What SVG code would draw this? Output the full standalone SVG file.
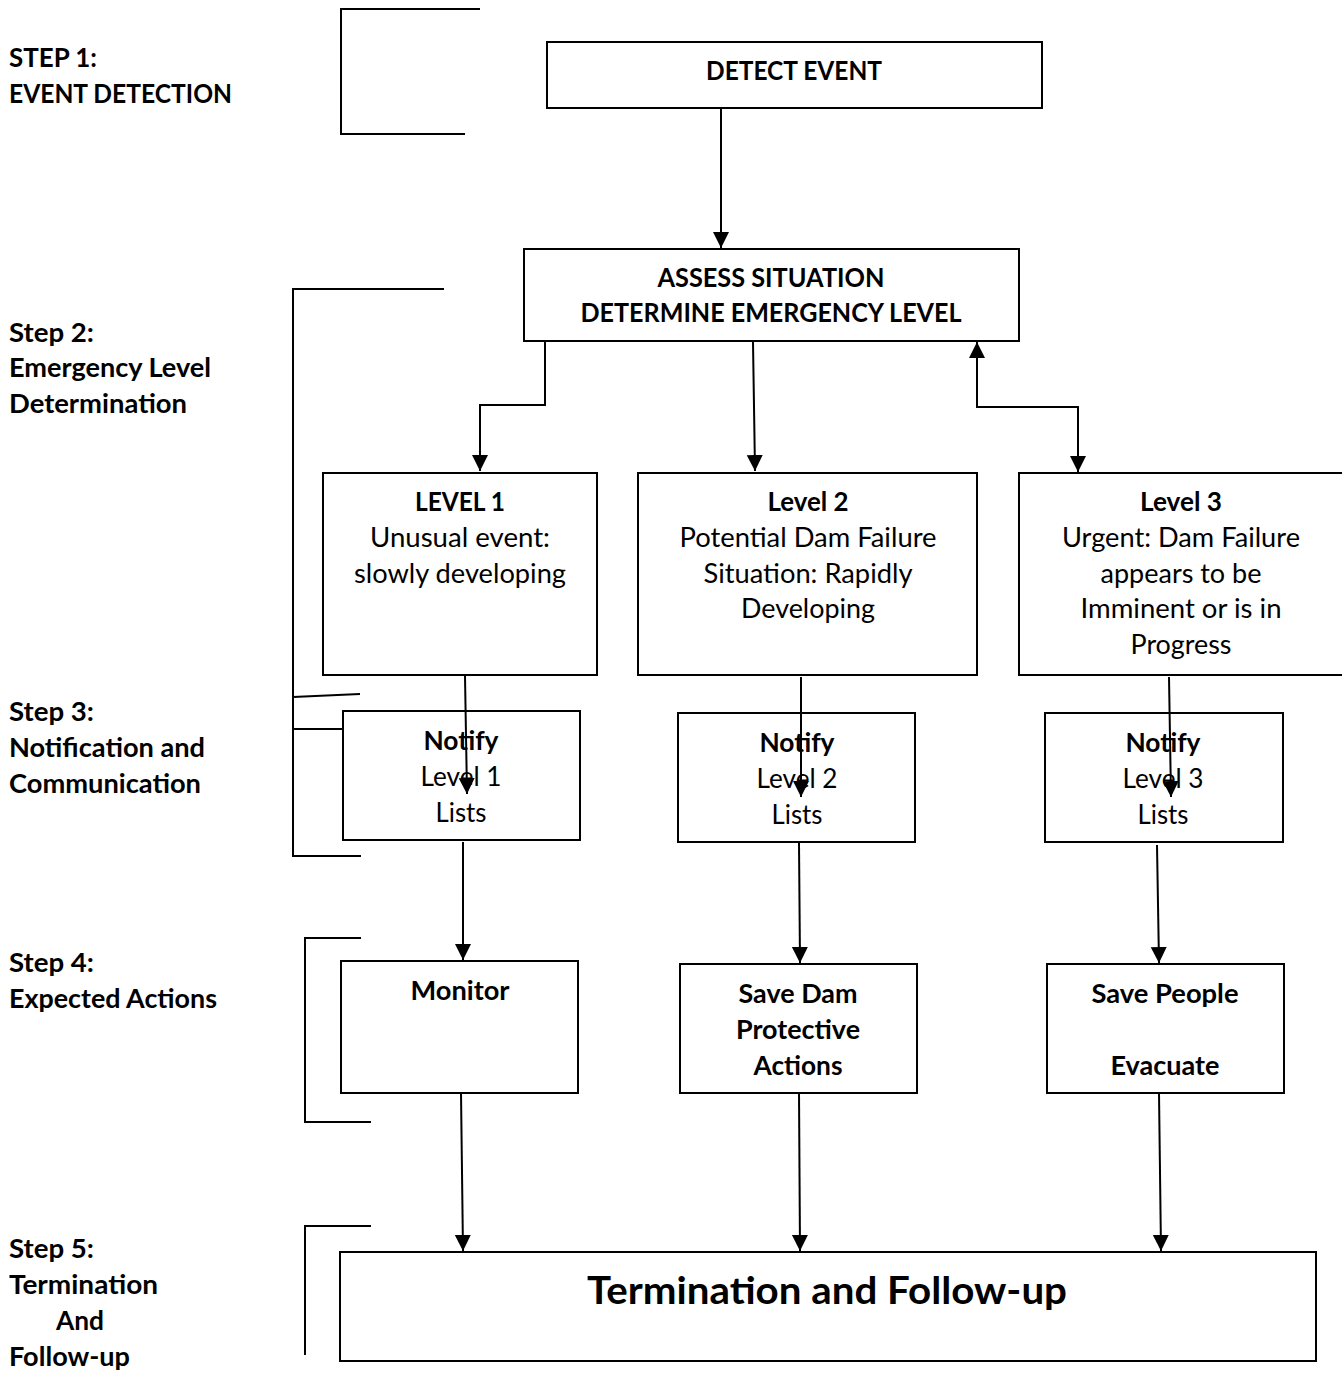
<svg xmlns="http://www.w3.org/2000/svg" width="1342" height="1393" viewBox="0 0 1342 1393">
<style>
text{font-family:Lato,"Open Sans","Liberation Sans",sans-serif;font-size:26px;fill:#000}
.b{font-weight:bold}
.c{text-anchor:middle}
.big{font-size:38px;font-weight:bold}
rect{fill:#fff;stroke:#000;stroke-width:2}
.ln{fill:none;stroke:#000;stroke-width:2}
</style>
<defs>
<marker id="ah" markerUnits="userSpaceOnUse" markerWidth="16" markerHeight="18" refX="16" refY="8" orient="auto-start-reverse">
<path d="M0,0 L16,8 L0,16 Z" fill="#000"/>
</marker>
</defs>
<g id="brackets" class="ln">
<path class="ln" d="M480,9 H341 V134 H465"/>
<path class="ln" d="M444,289 H293 V856 H361"/>
<path class="ln" d="M293,697 L360,694"/>
<path class="ln" d="M293,729 H343"/>
<path class="ln" d="M361,938 H305 V1122 H371"/>
<path class="ln" d="M371,1226 H305 V1355"/>
</g>
<g id="labels" class="b">
<text class="b" x="9" y="67" textLength="88" lengthAdjust="spacingAndGlyphs">STEP 1:</text>
<text class="b" x="9" y="103" textLength="223" lengthAdjust="spacingAndGlyphs">EVENT DETECTION</text>
<text class="b" x="9" y="342" textLength="85" lengthAdjust="spacingAndGlyphs">Step 2:</text>
<text class="b" x="9" y="377" textLength="202" lengthAdjust="spacingAndGlyphs">Emergency Level</text>
<text class="b" x="9" y="413" textLength="178" lengthAdjust="spacingAndGlyphs">Determination</text>
<text class="b" x="9" y="721" textLength="85" lengthAdjust="spacingAndGlyphs">Step 3:</text>
<text class="b" x="9" y="757" textLength="196" lengthAdjust="spacingAndGlyphs">Notification and</text>
<text class="b" x="9" y="793" textLength="192" lengthAdjust="spacingAndGlyphs">Communication</text>
<text class="b" x="9" y="972" textLength="85" lengthAdjust="spacingAndGlyphs">Step 4:</text>
<text class="b" x="9" y="1008" textLength="208" lengthAdjust="spacingAndGlyphs">Expected Actions</text>
<text class="b" x="9" y="1258" textLength="85" lengthAdjust="spacingAndGlyphs">Step 5:</text>
<text class="b" x="9" y="1294" textLength="149" lengthAdjust="spacingAndGlyphs">Termination</text>
<text class="b" x="56" y="1330" textLength="48" lengthAdjust="spacingAndGlyphs">And</text>
<text class="b" x="9" y="1366" textLength="121" lengthAdjust="spacingAndGlyphs">Follow-up</text>
</g>
<g id="detect">
<rect x="547" y="42" width="495" height="66"/>
<text class="b c" x="794" y="80" textLength="176" lengthAdjust="spacingAndGlyphs">DETECT EVENT</text>
</g>
<g id="assess">
<rect x="524" y="249" width="495" height="92"/>
<text class="b c" x="771" y="287" textLength="227" lengthAdjust="spacingAndGlyphs">ASSESS SITUATION</text>
<text class="b c" x="771" y="322" textLength="381" lengthAdjust="spacingAndGlyphs">DETERMINE EMERGENCY LEVEL</text>
</g>
<g id="level1">
<rect x="323" y="473" width="274" height="202"/>
<text class="b c" x="460" y="511" textLength="90" lengthAdjust="spacingAndGlyphs">LEVEL 1</text>
<text class="c" x="460" y="547" textLength="180" lengthAdjust="spacingAndGlyphs">Unusual event:</text>
<text class="c" x="460" y="583" textLength="212" lengthAdjust="spacingAndGlyphs">slowly developing</text>
</g>
<g id="level2">
<rect x="638" y="473" width="339" height="202"/>
<text class="b c" x="808" y="511" textLength="81" lengthAdjust="spacingAndGlyphs">Level 2</text>
<text class="c" x="808" y="547" textLength="257" lengthAdjust="spacingAndGlyphs">Potential Dam Failure</text>
<text class="c" x="808" y="583" textLength="209" lengthAdjust="spacingAndGlyphs">Situation: Rapidly</text>
<text class="c" x="808" y="618" textLength="134" lengthAdjust="spacingAndGlyphs">Developing</text>
</g>
<g id="level3">
<rect x="1019" y="473" width="330" height="202"/>
<text class="b c" x="1181" y="511" textLength="82" lengthAdjust="spacingAndGlyphs">Level 3</text>
<text class="c" x="1181" y="547" textLength="238" lengthAdjust="spacingAndGlyphs">Urgent: Dam Failure</text>
<text class="c" x="1181" y="583" textLength="161" lengthAdjust="spacingAndGlyphs">appears to be</text>
<text class="c" x="1181" y="618" textLength="201" lengthAdjust="spacingAndGlyphs">Imminent or is in</text>
<text class="c" x="1181" y="654" textLength="101" lengthAdjust="spacingAndGlyphs">Progress</text>
</g>
<g id="notify1">
<rect x="343" y="711" width="237" height="129"/>
<text class="b c" x="461" y="750" textLength="75" lengthAdjust="spacingAndGlyphs">Notify</text>
<text class="c" x="461" y="786" textLength="81" lengthAdjust="spacingAndGlyphs">Level 1</text>
<text class="c" x="461" y="822" textLength="51" lengthAdjust="spacingAndGlyphs">Lists</text>
</g>
<g id="notify2">
<rect x="678" y="713" width="237" height="129"/>
<text class="b c" x="797" y="752" textLength="75" lengthAdjust="spacingAndGlyphs">Notify</text>
<text class="c" x="797" y="788" textLength="81" lengthAdjust="spacingAndGlyphs">Level 2</text>
<text class="c" x="797" y="824" textLength="51" lengthAdjust="spacingAndGlyphs">Lists</text>
</g>
<g id="notify3">
<rect x="1045" y="713" width="238" height="129"/>
<text class="b c" x="1163" y="752" textLength="75" lengthAdjust="spacingAndGlyphs">Notify</text>
<text class="c" x="1163" y="788" textLength="81" lengthAdjust="spacingAndGlyphs">Level 3</text>
<text class="c" x="1163" y="824" textLength="51" lengthAdjust="spacingAndGlyphs">Lists</text>
</g>
<g id="monitor">
<rect x="341" y="961" width="237" height="132"/>
<text class="b c" x="460" y="1000" textLength="99" lengthAdjust="spacingAndGlyphs">Monitor</text>
</g>
<g id="savedam">
<rect x="680" y="964" width="237" height="129"/>
<text class="b c" x="798" y="1003" textLength="119" lengthAdjust="spacingAndGlyphs">Save Dam</text>
<text class="b c" x="798" y="1039" textLength="124" lengthAdjust="spacingAndGlyphs">Protective</text>
<text class="b c" x="798" y="1075" textLength="89" lengthAdjust="spacingAndGlyphs">Actions</text>
</g>
<g id="savepeople">
<rect x="1047" y="964" width="237" height="129"/>
<text class="b c" x="1165" y="1003" textLength="147" lengthAdjust="spacingAndGlyphs">Save People</text>
<text class="b c" x="1165" y="1075" textLength="109" lengthAdjust="spacingAndGlyphs">Evacuate</text>
</g>
<g id="termination">
<rect x="340" y="1252" width="976" height="109"/>
<text class="big c" x="827" y="1304" textLength="480" lengthAdjust="spacingAndGlyphs">Termination and Follow-up</text>
</g>
<g id="connectors" class="ln">
<path class="ln" d="M721,108 V248" marker-end="url(#ah)"/>
<path class="ln" d="M545,341 V405 H480 V471" marker-end="url(#ah)"/>
<path class="ln" d="M753,342 L755,471" marker-end="url(#ah)"/>
<path class="ln" d="M1078,472 V407 H977 V342" marker-start="url(#ah)" marker-end="url(#ah)"/>
<path class="ln" d="M465,676 L467,794" marker-end="url(#ah)"/>
<path class="ln" d="M801,677 L801,797" marker-end="url(#ah)"/>
<path class="ln" d="M1169,677 L1171,797" marker-end="url(#ah)"/>
<path class="ln" d="M463,842 V960" marker-end="url(#ah)"/>
<path class="ln" d="M799,843 L800,963" marker-end="url(#ah)"/>
<path class="ln" d="M1157,845 L1159,963" marker-end="url(#ah)"/>
<path class="ln" d="M461,1093 L463,1251" marker-end="url(#ah)"/>
<path class="ln" d="M799,1093 L800,1251" marker-end="url(#ah)"/>
<path class="ln" d="M1159,1093 L1161,1251" marker-end="url(#ah)"/>
</g>
</svg>
